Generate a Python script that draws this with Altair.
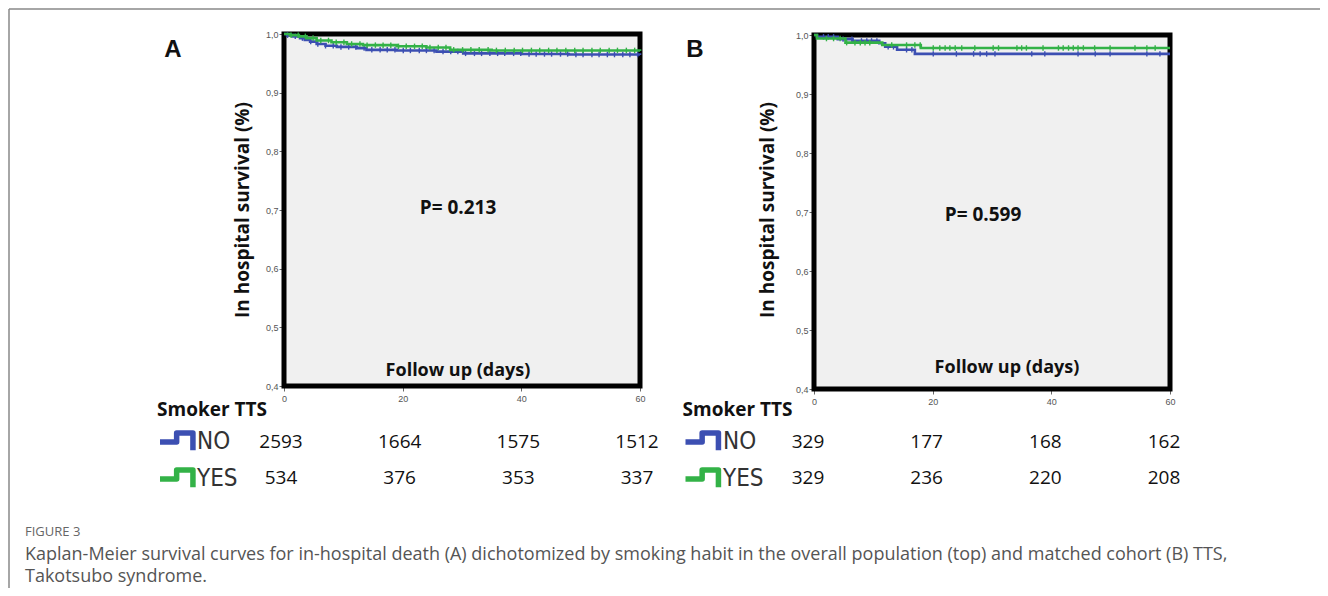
import altair as alt
import pandas as pd

# ---------------- data ----------------
risk_days = [0, 20, 40, 60]
groups = ["NO", "YES"]

# Panel A: overall population
a_no_days = [0, 0.5, 1.5, 2.7, 3.5, 4.4, 5.5, 7, 8.9, 12.3, 13.9, 19, 25.7, 30.2, 40, 48, 60]
a_no_surv = [1.0, 0.998, 0.996, 0.993, 0.99, 0.987, 0.983, 0.98, 0.978, 0.976, 0.973, 0.972, 0.970, 0.967, 0.966, 0.965, 0.964]
a_yes_days = [0, 1, 2.5, 3.8, 5.5, 8, 10.6, 13.3, 19, 24, 28, 35, 60]
a_yes_surv = [1.0, 0.998, 0.996, 0.993, 0.989, 0.986, 0.983, 0.981, 0.979, 0.977, 0.973, 0.972, 0.971]
a_no_cens = [0.6, 1.9, 3.1, 4.5, 5.7, 7.0, 8.3, 9.6, 10.9, 12.1, 13.5, 14.8, 16.2, 17.4, 18.7, 20.1, 21.3,
             22.8, 24.0, 25.3, 26.8, 28.1, 29.3, 30.6, 32.1, 33.3, 34.7, 36.0, 37.2, 38.7, 39.9, 41.3,
             42.5, 43.9, 45.1, 46.6, 47.8, 49.2, 50.4, 51.9, 53.1, 54.5, 55.7, 57.1, 58.3, 59.6]
a_yes_cens = [1.2, 2.4, 3.6, 4.9, 6.2, 7.5, 8.8, 10.1, 11.4, 12.8, 14.0, 15.4, 16.7, 18.0, 19.3, 20.6,
              22.0, 23.3, 24.6, 26.0, 27.3, 28.6, 30.1, 31.5, 32.9, 34.4, 35.8, 37.3, 38.8, 40.2,
              41.7, 43.1, 44.6, 46.0, 47.5, 49.0, 50.4, 51.9, 53.3, 54.8, 56.2, 57.7, 59.1]
a_no_risk = [2593, 1664, 1575, 1512]
a_yes_risk = [534, 376, 353, 337]

# Panel B: matched cohort
b_no_days = [0, 0.5, 4, 6.5, 11, 12, 14, 17, 60]
b_no_surv = [1.0, 0.997, 0.993, 0.99, 0.986, 0.98, 0.975, 0.968, 0.968]
b_yes_days = [0, 0.5, 5.3, 11.5, 18, 60]
b_yes_surv = [1.0, 0.994, 0.987, 0.983, 0.978, 0.978]
b_no_cens = [1.6, 2.4, 3.3, 4.9, 6.4, 8.0, 8.9, 9.7, 10.6, 12.5, 13.4, 15.6, 16.5, 20.1, 24.0, 26.9,
             28.0, 29.1, 30.5, 36.7, 38.9, 44.5, 47.4, 49.9, 56.1, 58.3]
b_yes_cens = [2.1, 3.3, 4.4, 5.5, 6.9, 7.8, 8.6, 9.4, 13.1, 15.6, 17.0, 17.9, 20.1, 21.2, 22.1, 22.9,
              23.8, 24.9, 27.1, 30.2, 31.1, 34.2, 35.0, 35.8, 38.6, 41.2, 42.0, 42.9, 43.7, 44.5,
              45.4, 47.3, 49.9, 54.1, 56.1, 57.5]
b_no_risk = [329, 177, 168, 162]
b_yes_risk = [329, 236, 220, 208]

y_ticks = [0.4, 0.5, 0.6, 0.7, 0.8, 0.9, 1.0]
x_domain = [0, 60]
y_domain = [0.4, 1.0]

caption_head = "FIGURE 3"
caption_1 = ("Kaplan-Meier survival curves for in-hospital death (A) dichotomized by smoking habit in the "
             "overall population (top) and matched cohort (B) TTS,")
caption_2 = "Takotsubo syndrome."

BLUE = "#3c4fb2"
GREEN = "#33b247"
W, H = 1312, 580
NARROW = "DejaVu Sans Condensed, Liberation Sans, sans-serif"


def step_value(days, surv, t):
    v = surv[0]
    for d, s in zip(days, surv):
        if d <= t:
            v = s
    return v


def label(text, x, y, **kw):
    return alt.Chart(pd.DataFrame({"t": [text]})).mark_text(**kw).encode(
        x=alt.value(x), y=alt.value(y), text="t:N")


def panel(xr, yr, no_d, no_s, yes_d, yes_s, no_c, yes_c, no_r, yes_r, ptext, px, py, fx, fy,
          letter, lx, ytx, smx, iconx, namex, dx):
    xs = alt.Scale(domain=x_domain, range=xr, nice=False, zero=False)
    ys = alt.Scale(domain=y_domain, range=yr, nice=False, zero=False)
    xaxis = alt.Axis(orient="bottom", offset=yr[0] - H, values=risk_days, title=None, grid=False,
                     domain=False, tickSize=5, tickColor="#666", labelPadding=3, labelFontSize=9,
                     labelFont="Liberation Sans", labelColor="#555", labelFlush=False)
    yaxis = alt.Axis(orient="left", offset=-xr[0], values=y_ticks, title=None, grid=False,
                     domain=False, tickSize=5, tickColor="#666", labelPadding=1, labelFontSize=9,
                     labelFont="Liberation Sans", labelColor="#555",
                     labelExpr="replace(format(datum.value, '.1f'), '.', ',')")
    frame = alt.Chart(pd.DataFrame({"x0": [x_domain[0]], "x1": [x_domain[1]],
                                    "y0": [y_domain[0]], "y1": [y_domain[1]]})).mark_rect(
        fill="#f0f0f0", stroke="black", strokeWidth=5).encode(
        x=alt.X("x0:Q", scale=xs, axis=xaxis), x2="x1:Q",
        y=alt.Y("y0:Q", scale=ys, axis=yaxis), y2="y1:Q")
    layers = [frame]
    for d, s, c, col in [(no_d, no_s, no_c, BLUE), (yes_d, yes_s, yes_c, GREEN)]:
        df = pd.DataFrame({"day": d, "surv": s})
        layers.append(alt.Chart(df).mark_line(interpolate="step-after", strokeWidth=2.6, color=col).encode(
            x=alt.X("day:Q", scale=xs, axis=None), y=alt.Y("surv:Q", scale=ys, axis=None)))
        cdf = pd.DataFrame({"day": c, "surv": [step_value(d, s, t) for t in c]})
        layers.append(alt.Chart(cdf).mark_point(shape="M0,-1L0,1", size=30, strokeWidth=1.4,
                                                filled=False, opacity=1, color=col).encode(
            x=alt.X("day:Q", scale=xs, axis=None), y=alt.Y("surv:Q", scale=ys, axis=None)))
    # numbers at risk
    for r, yy in [(no_r, 434), (yes_r, 470)]:
        rdf = pd.DataFrame({"day": risk_days, "n": r})
        layers.append(alt.Chart(rdf).mark_text(font="Open Sans", fontSize=19, color="#111", dx=dx,
                                               baseline="middle").encode(
            x=alt.X("day:Q", scale=xs, axis=None), y=alt.value(yy), text="n:Q"))
    # texts
    layers.append(label(ptext, px, py, font="Open Sans", fontSize=19, fontWeight="bold", color="#111"))
    layers.append(label("Follow up (days)", fx, fy, font="Open Sans", fontSize=18, fontWeight="bold",
                        color="#111"))
    layers.append(label(letter, lx, 42, font="Liberation Sans", fontSize=24, fontWeight="bold",
                        color="#111"))
    layers.append(label("In hospital survival (%)", ytx, 202, font="Open Sans", fontSize=19,
                        fontWeight="bold", angle=270, color="#111"))
    layers.append(label("Smoker TTS", smx, 402, font="Open Sans", fontSize=19, fontWeight="bold",
                        color="#111"))
    for g, col, yy in [(groups[0], BLUE, 433), (groups[1], GREEN, 470)]:
        layers.append(alt.Chart(pd.DataFrame({"g": [g]})).mark_point(
            shape="M-1,0.05L-0.1,0.05L-0.1,-0.43L0.78,-0.43L0.78,0.5", size=1369, filled=False,
            strokeWidth=5.5, strokeJoin="round", color=col, opacity=1).encode(
            x=alt.value(iconx), y=alt.value(yy)))
        layers.append(label(g, namex, yy + 1, font=NARROW, fontSize=24, color="#333",
                            align="left", baseline="middle"))
    return layers


layers = []
layers += panel([276, 632], [378, 26], a_no_days, a_no_surv, a_yes_days, a_yes_surv, a_no_cens, a_yes_cens,
                a_no_risk, a_yes_risk, "P= 0.213", 450, 200, 450, 363, "A", 165, 235, 204, 170.5, 189, -3)
layers += panel([806, 1162], [381, 27], b_no_days, b_no_surv, b_yes_days, b_yes_surv, b_no_cens, b_yes_cens,
                b_no_risk, b_yes_risk, "P= 0.599", 975, 207, 999, 360, "B", 687, 760, 729.5, 696, 715, -6)

# figure frame lines
layers.append(alt.Chart(pd.DataFrame({"k": [1]})).mark_rule(color="#888", strokeWidth=1.5).encode(
    x=alt.value(1), x2=alt.value(W), y=alt.value(1)))
layers.append(alt.Chart(pd.DataFrame({"k": [1]})).mark_rule(color="#888", strokeWidth=1.5).encode(
    x=alt.value(1), y=alt.value(1), y2=alt.value(H)))

# caption
layers.append(label(caption_head, 17, 524, font="Open Sans", fontSize=13, color="#666", align="left",
                    baseline="middle"))
layers.append(label(caption_1, 17, 547, font="Open Sans", fontSize=18, color="#555", align="left",
                    baseline="middle"))
layers.append(label(caption_2, 17, 569, font="Open Sans", fontSize=18, color="#555", align="left",
                    baseline="middle"))

chart = alt.layer(*layers).resolve_scale(x="independent", y="independent").properties(
    width=W, height=H, padding=0, autosize=alt.AutoSizeParams(type="none")
).configure_view(stroke=None)

chart.save("out.html", embed_options={"renderer": "svg", "actions": False})
